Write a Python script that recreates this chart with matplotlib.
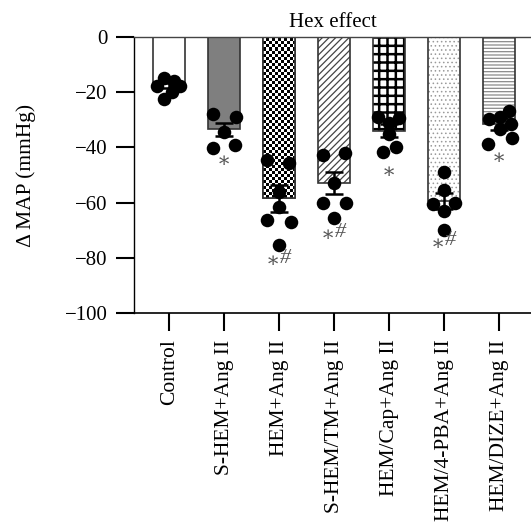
import numpy as np
import matplotlib
matplotlib.use("Agg")
import matplotlib.pyplot as plt

# ---------------- data ----------------
categories = ["Control", "S-HEM+Ang II", "HEM+Ang II", "S-HEM/TM+Ang II",
              "HEM/Cap+Ang II", "HEM/4-PBA+Ang II", "HEM/DIZE+Ang II"]
means = [-17.0, -33.5, -58.5, -53.0, -34.0, -59.5, -31.5]
sems = [1.3, 2.4, 5.0, 4.0, 2.4, 2.8, 2.3]
points = [
    [-15.0, -15.8, -17.8, -17.8, -19.8, -22.5],
    [-28.0, -28.9, -34.5, -40.3, -39.1],
    [-44.6, -45.8, -56.0, -61.5, -66.3, -67.2, -75.4],
    [-42.8, -42.1, -53.0, -60.0, -60.0, -65.5],
    [-28.9, -29.5, -31.3, -35.3, -39.7, -41.8],
    [-48.8, -55.4, -60.6, -60.3, -63.0, -69.9],
    [-26.7, -29.8, -29.1, -31.5, -33.4, -36.7, -38.8],
]
# horizontal jitter of the dots (fraction of category spacing)
jitter = [
    [-0.10, 0.08, -0.22, 0.20, 0.05, -0.09],
    [-0.21, 0.21, 0.0, -0.21, 0.20],
    [-0.22, 0.18, 0.0, 0.0, -0.22, 0.22, 0.0],
    [-0.20, 0.20, 0.0, -0.20, 0.22, 0.0],
    [-0.20, 0.18, 0.0, 0.0, 0.13, -0.11],
    [0.0, 0.0, -0.20, 0.20, 0.0, 0.0],
    [0.18, -0.18, 0.02, 0.22, 0.02, 0.24, -0.20],
]
sig_labels = ["", "*", "*#", "*#", "*", "*#", "*"]
sig_y = [0, -45.2, -80.4, -71.0, -49.0, -74.0, -44.0]

title = "Hex effect"
ylabel = "\u0394 MAP (mmHg)"
yticks = [0, -20, -40, -60, -80, -100]

# ---------------- style ----------------
plt.rcParams['font.family'] = ['Liberation Serif', 'DejaVu Serif']
FS = 15
fig = plt.figure(figsize=(5.31, 5.22), dpi=100)
ax = fig.add_axes([134 / 531, 1 - 313 / 522, 1 - 134 / 531, (313 - 37) / 522])

x = np.arange(len(categories))
bw = 0.58
edge = '#333333'

styles = [
    dict(kind='plain', fc='white'),
    dict(kind='plain', fc='#7f7f7f'),
    dict(kind='checker'),
    dict(kind='hatch', hatch='/////', hc='#444444', hlw=0.9),
    dict(kind='hatch', hatch='++', hc='#000000', hlw=1.8),
    dict(kind='hatch', hatch='....', hc='#9a9a9a', hlw=0.6),
    dict(kind='hatch', hatch='-----', hc='#8a8a8a', hlw=0.9),
]

for i, (xi, m, st) in enumerate(zip(x, means, styles)):
    if st['kind'] == 'plain':
        ax.bar(xi, m, bw, color=st['fc'], edgecolor=edge, linewidth=1.2, zorder=2)
    elif st['kind'] == 'checker':
        b = ax.bar(xi, m, bw, color='white', edgecolor=edge, linewidth=1.2, zorder=2)[0]
        x0, w = b.get_x(), b.get_width()
        y0, h = b.get_y(), b.get_height()
        cw = 3.0 / 55.0
        ch = 3.0 / 2.76
        ncol = int(np.ceil(abs(w) / cw))
        nrow = int(np.ceil(abs(h) / ch))
        ii, jj = np.indices((nrow, ncol))
        board = ((ii + jj) % 2).astype(float)
        ybot = min(y0, y0 + h)
        im = ax.imshow(board, cmap='gray', interpolation='nearest', aspect='auto',
                       extent=(x0, x0 + ncol * cw, ybot, ybot + nrow * ch),
                       zorder=2.1, vmin=0, vmax=1)
        im.set_clip_path(b)
        ax.bar(xi, m, bw, fill=False, edgecolor=edge, linewidth=1.2, zorder=2.2)
    else:
        with plt.rc_context({'hatch.linewidth': st['hlw'], 'hatch.color': st['hc']}):
            hb = ax.bar(xi, m, bw, color='white', edgecolor=st['hc'], hatch=st['hatch'],
                        linewidth=0, zorder=2)[0]
        if hasattr(hb, 'set_hatch_linewidth'):
            hb.set_hatch_linewidth(st['hlw'])
        ax.bar(xi, m, bw, fill=False, edgecolor=edge, linewidth=1.2, zorder=2.2)

# dots
for xi, pts, jit in zip(x, points, jitter):
    ax.scatter(xi + np.array(jit), pts, s=95, color='black', zorder=4, linewidths=0)

# error bars
ax.errorbar(x, means, yerr=sems, fmt='none', ecolor='black', elinewidth=1.8,
            capsize=6.5, capthick=1.8, zorder=5)

# significance marks
for xi, lab, yy in zip(x, sig_labels, sig_y):
    if not lab:
        continue
    if lab == '*':
        ax.text(xi, yy, '\u2217', ha='center', va='center', fontsize=FS,
                color='#555555', family=['DejaVu Serif'], zorder=6)
    else:
        ax.text(xi - 0.12, yy - 1.0, '\u2217', ha='center', va='center', fontsize=FS,
                color='#555555', family=['DejaVu Serif'], zorder=6)
        ax.text(xi + 0.12, yy + 0.3, '#', ha='center', va='center', fontsize=FS + 1,
                color='#555555', style='italic', zorder=6)

ax.set_xlim(-0.64, 6.58)
ax.set_ylim(-100, 0)
ax.set_yticks(yticks)
ax.set_yticklabels([("\u2212" + str(abs(t))) if t < 0 else str(t) for t in yticks], fontsize=FS)
ax.set_xticks(x)
ax.set_xticklabels(categories, rotation=90, fontsize=FS + 0.5, ha='center', va='top')
ax.tick_params(axis='both', direction='out', length=13, width=1.5, pad=6, color='black')
ax.spines['right'].set_visible(False)
ax.spines['top'].set_color('#444444')
ax.spines['top'].set_linewidth(1.0)
ax.spines['left'].set_linewidth(1.0)
ax.spines['bottom'].set_linewidth(1.2)
ax.set_ylabel(ylabel, fontsize=FS + 0.5, labelpad=21)
ax.set_title(title, fontsize=FS, pad=7)

fig.savefig('out.png', dpi=100)
